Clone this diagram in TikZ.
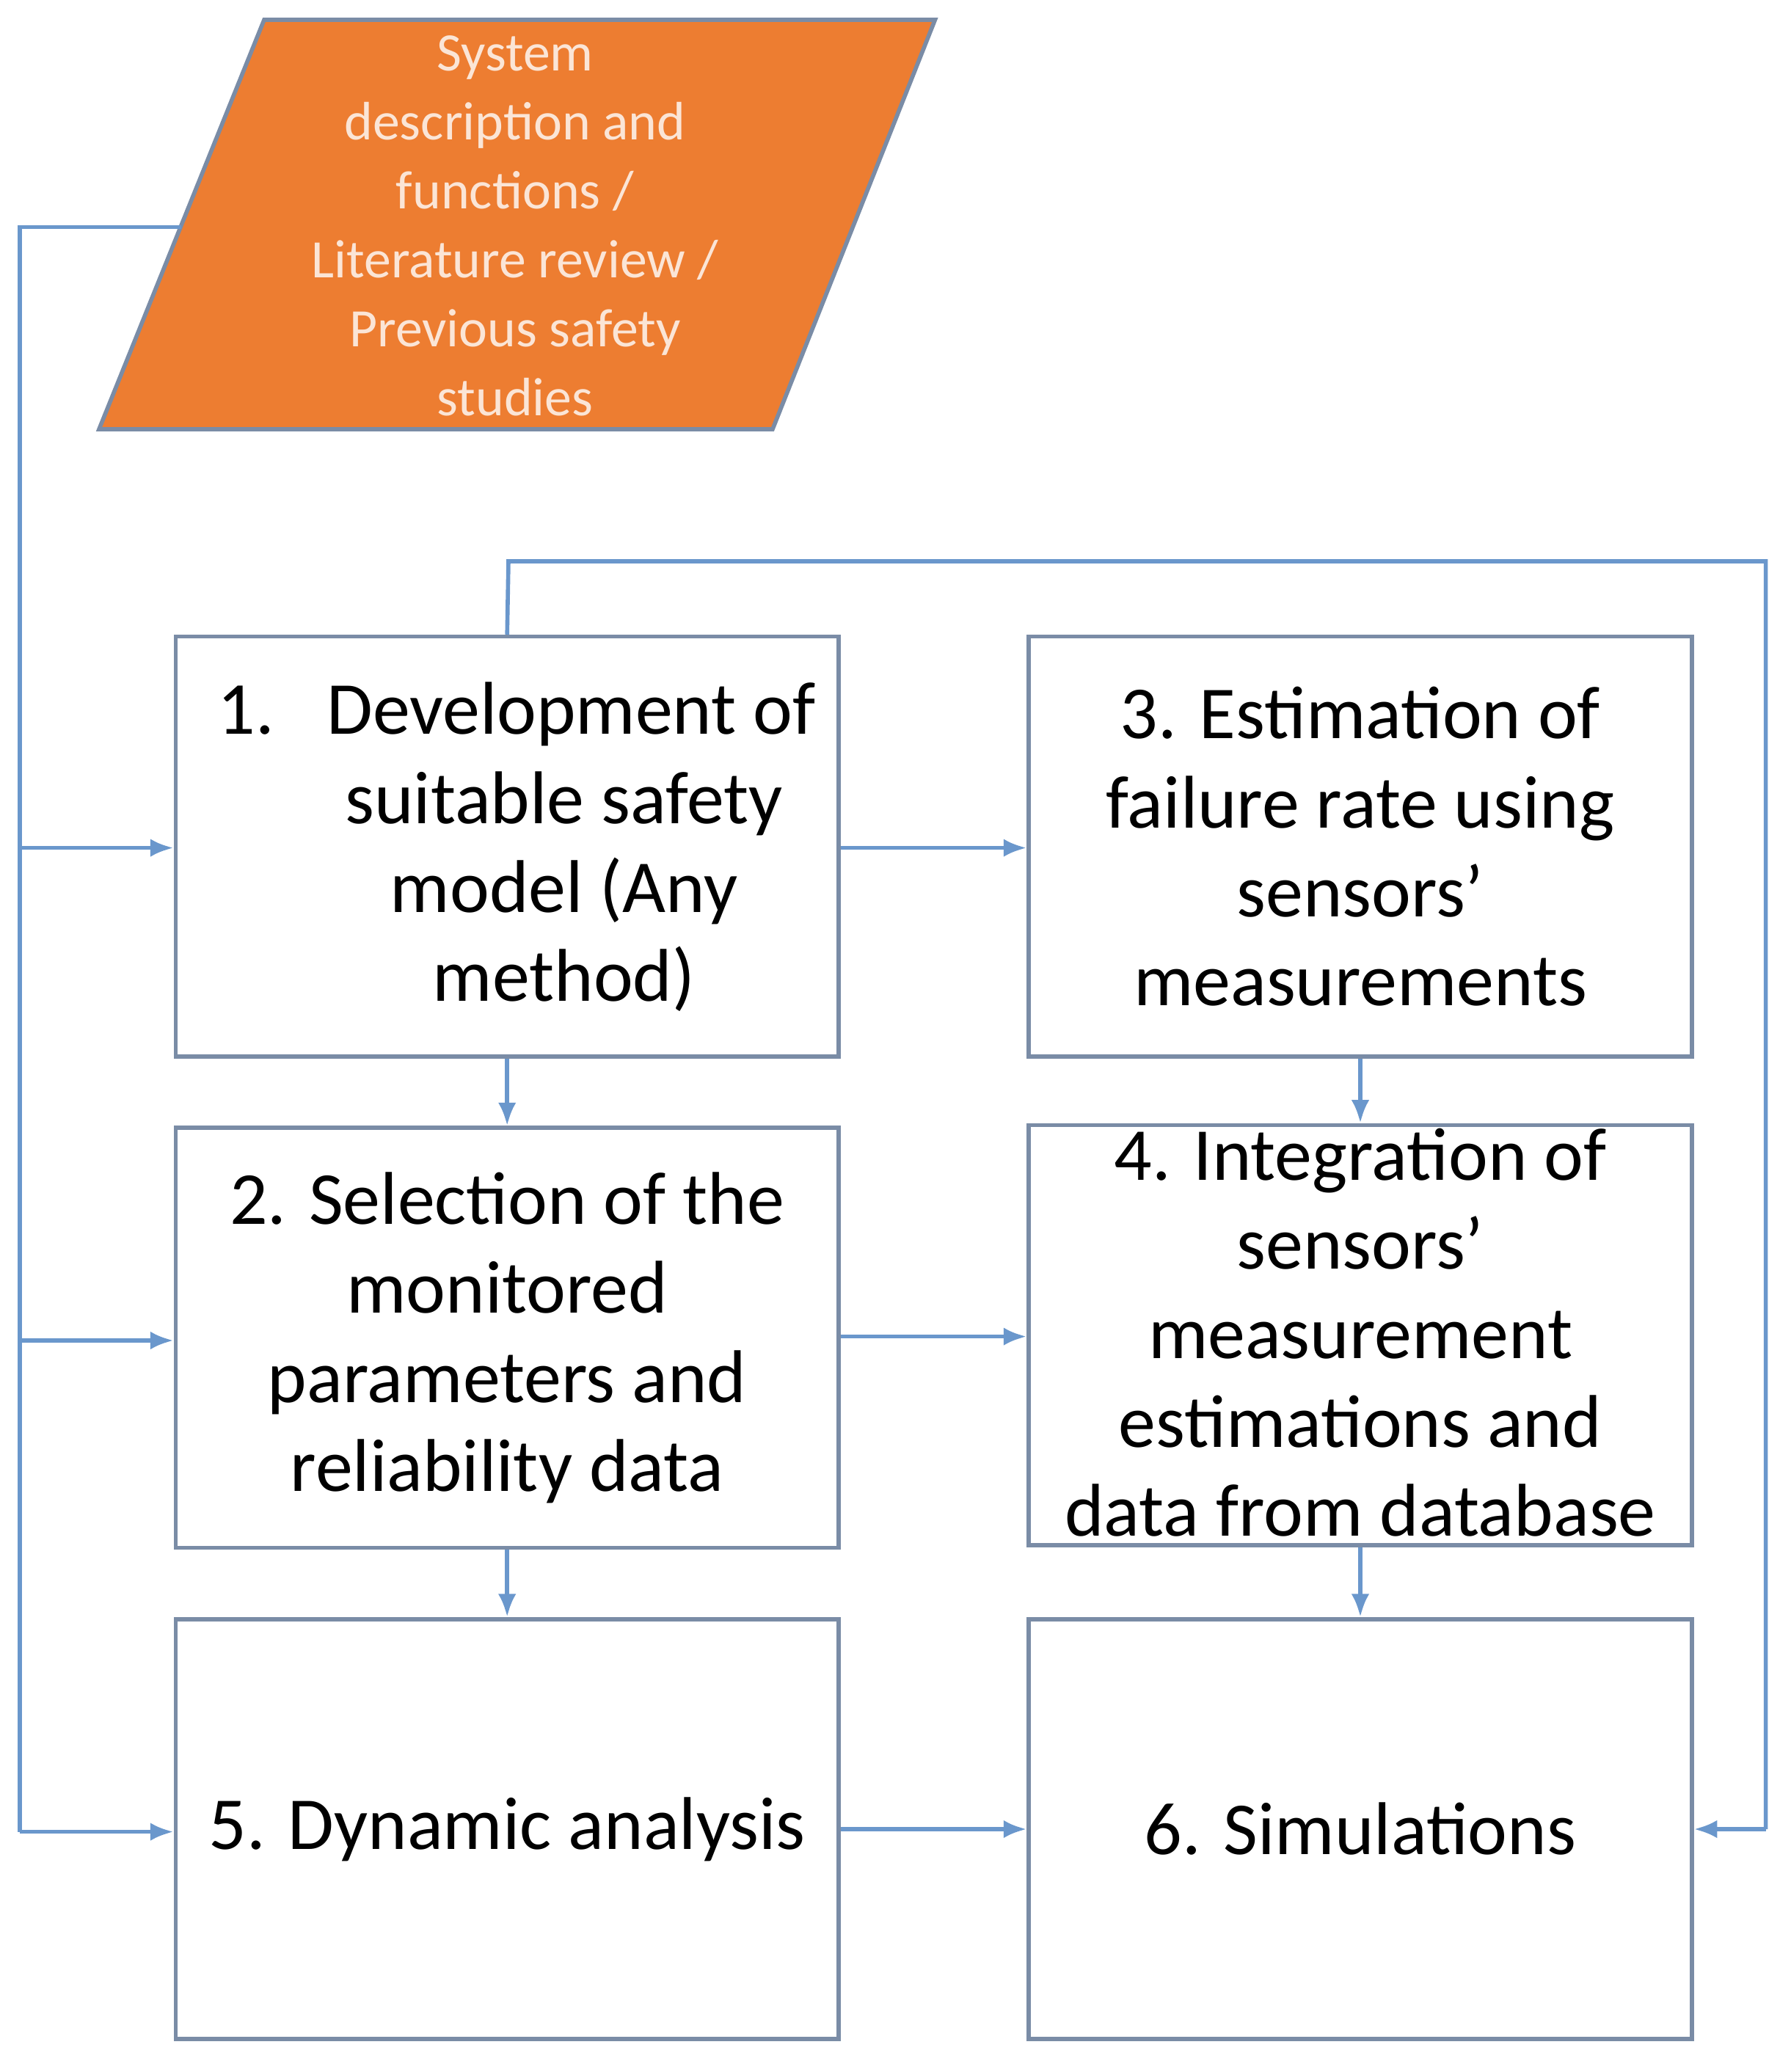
\documentclass[tikz,border=0pt]{standalone}
\usepackage{fontspec}
\setmainfont{Carlito}
\usetikzlibrary{arrows.meta}
\definecolor{ln}{HTML}{6A97CC}
\definecolor{bx}{HTML}{7A8CA6}
\definecolor{org}{HTML}{ED7D31}
\definecolor{otx}{HTML}{FBE5D6}
\begin{document}
\begin{tikzpicture}[x=0.018cm,y=-0.018cm,
  box/.style={draw=bx,line width=1.6pt,minimum width=502*0.018cm,minimum height=318*0.018cm,inner sep=0pt,align=center,
    font=\fontsize{29}{34.5}\selectfont},
  conn/.style={draw=ln,line width=1.6pt,-{Latex[length=9pt,width=7pt]}},
  plain/.style={draw=ln,line width=1.6pt}]
\useasboundingbox (0,0) rectangle (1355.6,1568.9);
\filldraw[fill=org,draw=bx,line width=1.6pt] (200,15) -- (708,15) -- (585,325) -- (75,325) -- cycle;
\node[align=center,text=otx,font=\fontsize{21}{26.8}\selectfont] (p) at (390,171)
 {System\\description and\\functions /\\Literature review /\\Previous safety\\studies};
\coordinate (pl) at (137,172);
\node[box] (b1) at (384,641) {};
\node[font=\fontsize{29}{34.5}\selectfont,align=left,anchor=west] at (158,541) {1.\hspace{0.7em}Development of};
\node[font=\fontsize{29}{34.5}\selectfont,align=center] at (427,675) {suitable safety\\model (Any\\method)};
\node[box] (b3) at (1030,641) {3. Estimation of\\failure rate using\\sensors’\\measurements};
\node[box] (b2) at (384,1013) {2. Selection of the\\monitored\\parameters and\\reliability data};
\node[box] (b4) at (1030,1011) {};
\node[font=\fontsize{29}{34.5}\selectfont,align=center] at (1030,1009) {4. Integration of\\sensors’\\measurement\\estimations and\\data from database};
\node[box] (b5) at (384,1385) {5. Dynamic analysis};
\node[box] (b6) at (1030,1385) {6. Simulations};
\coordinate (L) at (15,172);
\path[plain] (pl) -- (L) -- (15,1387);
\draw[conn] (15,642) -- (b1.west |- 0,642);
\draw[conn] (15,1015) -- (b2.west |- 0,1015);
\draw[conn] (15,1387) -- (b5.west |- 0,1387);
\draw[plain] (b1.north) -- (385,425) -- (1337,425) -- (1337,1385);
\draw[conn] (1337,1385) -- (b6.east |- 0,1385);
\draw[conn] (b1.east |- 0,642) -- (b3.west |- 0,642);
\draw[conn] (b2.east |- 0,1012) -- (b4.west |- 0,1012);
\draw[conn] (b5.east |- 0,1385) -- (b6.west |- 0,1385);
\draw[conn] (b1.south) -- (b2.north);
\draw[conn] (b3.south) -- (b4.north);
\draw[conn] (b2.south) -- (b5.north);
\draw[conn] (b4.south) -- (b6.north);
\end{tikzpicture}
\end{document}
